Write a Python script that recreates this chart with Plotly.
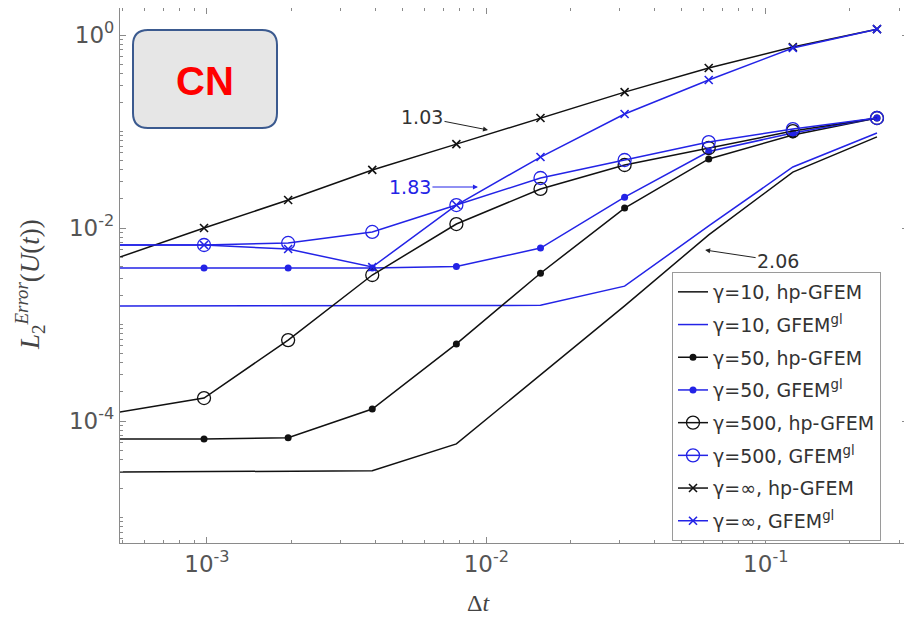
import plotly.graph_objects as go

# ---- data ----
dt = [4.8828125e-4, 9.765625e-4, 1.953125e-3, 3.90625e-3, 7.8125e-3,
      1.5625e-2, 3.125e-2, 6.25e-2, 0.125, 0.25]

g10_hp = [2.96e-5, 3.0e-5, 3.0e-5, 3.05e-5, 5.8e-5, 3.0e-4, 1.56e-3, 8.5e-3, 0.038, 0.088]
g10_gl = [1.56e-3, 1.56e-3, 1.56e-3, 1.56e-3, 1.56e-3, 1.58e-3, 2.5e-3, 0.0105, 0.0429, 0.0965]
g50_hp = [6.5e-5, 6.5e-5, 6.7e-5, 1.33e-4, 6.3e-4, 3.4e-3, 0.0161, 0.052, 0.092, 0.138]
g50_gl = [3.85e-3, 3.85e-3, 3.85e-3, 3.85e-3, 4.0e-3, 6.2e-3, 0.0209, 0.062, 0.0965, 0.138]
g500_hp = [1.24e-4, 1.73e-4, 6.9e-4, 3.26e-3, 0.011, 0.0254, 0.045, 0.0675, 0.101, 0.138]
g500_gl = [6.67e-3, 6.67e-3, 7.0e-3, 9.1e-3, 0.0173, 0.033, 0.0507, 0.0778, 0.106, 0.138]
ginf_hp = [5.0e-3, 1.0e-2, 0.0195, 0.040, 0.074, 0.138, 0.256, 0.455, 0.75, 1.15]
ginf_gl = [6.67e-3, 6.67e-3, 6.06e-3, 3.94e-3, 0.0173, 0.0544, 0.152, 0.342, 0.733, 1.15]

names = ["γ=10, hp-GFEM", "γ=10, GFEM<sup>gl</sup>",
         "γ=50, hp-GFEM", "γ=50, GFEM<sup>gl</sup>",
         "γ=500, hp-GFEM", "γ=500, GFEM<sup>gl</sup>",
         "γ=∞, hp-GFEM", "γ=∞, GFEM<sup>gl</sup>"]

x_tickvals = [1e-3, 1e-2, 1e-1]
x_ticktext = ["10<sup>-3</sup>", "10<sup>-2</sup>", "10<sup>-1</sup>"]
y_tickvals = [1e-4, 1e-2, 1e0]
y_ticktext = ["10<sup>-4</sup>", "10<sup>-2</sup>", "10<sup>0</sup>"]

slope_labels = ["1.03", "1.83", "2.06"]

# ---- styling ----
BLACK = "#111111"
BLUE = "#2323e6"
AXIS = "#8a8a8a"
TXT = "#444444"

# page has an 8px body margin: figure placed at (8, 8)
OFF = 8
W, H = 912 - OFF, 617 - OFF
L, R, T, B = 120 - OFF, 4, 8 - OFF, 74
PW, PH = W - L - R, H - T - B

series = [
    (g10_hp, BLACK, "lines", None),
    (g10_gl, BLUE, "lines", None),
    (g50_hp, BLACK, "lines+markers", dict(symbol="circle", size=7)),
    (g50_gl, BLUE, "lines+markers", dict(symbol="circle", size=7)),
    (g500_hp, BLACK, "lines+markers", dict(symbol="circle-open", size=13, line=dict(width=1.3))),
    (g500_gl, BLUE, "lines+markers", dict(symbol="circle-open", size=13, line=dict(width=1.3))),
    (ginf_hp, BLACK, "lines+markers", dict(symbol="x-thin-open", size=8, line=dict(width=1.6))),
    (ginf_gl, BLUE, "lines+markers", dict(symbol="x-thin-open", size=8, line=dict(width=1.6))),
]

fig = go.Figure()
for i, (vals, col, mode, mk) in enumerate(series):
    kw = {}
    if mk is not None:
        m = dict(mk)
        m["color"] = col
        if "line" in m:
            m["line"] = dict(m["line"], color=col)
        kw["marker"] = m
    fig.add_trace(go.Scatter(x=dt, y=vals, mode=mode, name=names[i],
                             line=dict(color=col, width=1.5),
                             legendgroup=f"g{i}", cliponaxis=False, **kw))

# minor tick positions
x_minor = [k * 10 ** e for e in range(-4, 1) for k in range(1, 10)
           if k * 10 ** e not in x_tickvals]
y_minor = [k * 10.0 ** e for e in range(-6, 1) for k in range(1, 10)
           if not (k == 1 and e in (-4, -2, 0))]

fig.update_xaxes(type="log", range=[-3.311, -0.491],
                 tickvals=x_tickvals, ticktext=x_ticktext,
                 ticks="inside", ticklen=6, tickcolor=AXIS,
                 minor=dict(tickvals=x_minor, ticks="inside", ticklen=3, tickcolor=AXIS),
                 showline=True, linecolor=AXIS, linewidth=1.2, mirror="allticks",
                 showgrid=False, zeroline=False,
                 tickfont=dict(family="DejaVu Sans", size=23, color="#555555"))
fig.update_yaxes(type="log", range=[-5.264, 0.280],
                 tickvals=y_tickvals, ticktext=y_ticktext,
                 ticks="inside", ticklen=6, tickcolor=AXIS,
                 minor=dict(tickvals=y_minor, ticks="inside", ticklen=3, tickcolor=AXIS),
                 showline=True, linecolor=AXIS, linewidth=1.2, mirror="allticks",
                 showgrid=False, zeroline=False,
                 tickfont=dict(family="DejaVu Sans", size=23, color="#555555"))


def px2paper(xp, yp):
    # page pixel -> paper coords
    return (xp - OFF - L) / PW, (OFF + H - B - yp) / PH


def rounded_rect(x0, y0, x1, y1, r):
    def P(x, y):
        a, b = px2paper(x, y)
        return f"{a:.5f},{b:.5f}"
    return (f"M {P(x0 + r, y0)} L {P(x1 - r, y0)} Q {P(x1, y0)} {P(x1, y0 + r)} "
            f"L {P(x1, y1 - r)} Q {P(x1, y1)} {P(x1 - r, y1)} "
            f"L {P(x0 + r, y1)} Q {P(x0, y1)} {P(x0, y1 - r)} "
            f"L {P(x0, y0 + r)} Q {P(x0, y0)} {P(x0 + r, y0)} Z")


fig.add_shape(type="path", xref="paper", yref="paper",
              path=rounded_rect(133, 30, 277, 128, 15),
              fillcolor="#e6e6e6", line=dict(color="#3b5a8f", width=2))
cx, cy = px2paper(205, 81)
fig.add_annotation(xref="paper", yref="paper", x=cx, y=cy, text="<b>CN</b>",
                   showarrow=False, xanchor="center", yanchor="middle",
                   font=dict(family="Liberation Sans", size=40, color="#ff0000"))

# slope annotations (arrow heads in log10 data units)
fig.add_annotation(x=-1.994, y=-0.984, text=slope_labels[0], showarrow=True,
                   ax=-66, ay=-13, arrowhead=2, arrowsize=1, arrowwidth=1,
                   arrowcolor="#222222",
                   font=dict(family="DejaVu Sans", size=19, color="#333333"))
fig.add_annotation(x=-2.030, y=-1.575, text=slope_labels[1], showarrow=True,
                   ax=-68, ay=0, arrowhead=2, arrowsize=1, arrowwidth=1,
                   arrowcolor=BLUE,
                   font=dict(family="DejaVu Sans", size=19, color=BLUE))
fig.add_annotation(x=-1.217, y=-2.228, text=slope_labels[2], showarrow=True,
                   ax=73, ay=11, arrowhead=2, arrowsize=1, arrowwidth=1,
                   arrowcolor="#222222",
                   font=dict(family="DejaVu Sans", size=19, color="#333333"))

# axis titles
tx, ty = px2paper(30, 285)
fig.add_annotation(xref="paper", yref="paper", x=tx, y=ty, textangle=-90,
                   text="<i>L</i><sub>2</sub><sup><i>Error</i></sup>(<i>U</i>(<i>t</i>))",
                   showarrow=False, xanchor="center", yanchor="middle",
                   font=dict(family="Liberation Serif", size=27, color=TXT))
bx, by = px2paper(478, 588)
fig.add_annotation(xref="paper", yref="paper", x=bx, y=by, text="Δ<i>t</i>",
                   showarrow=False, xanchor="center", yanchor="top",
                   font=dict(family="Liberation Serif", size=24, color=TXT))

lx, ly = px2paper(672, 272)
fig.update_layout(
    width=W, height=H,
    margin=dict(l=L, r=R, t=T, b=B, autoexpand=False),
    paper_bgcolor="white", plot_bgcolor="white",
    showlegend=True,
    legend=dict(x=lx, y=ly, xanchor="left", yanchor="top",
                bgcolor="white", bordercolor="#9a9a9a", borderwidth=1,
                font=dict(family="DejaVu Sans", size=19, color="#333333"),
                tracegroupgap=5, itemwidth=30, traceorder="grouped"),
)

fig.write_html("out.html")
